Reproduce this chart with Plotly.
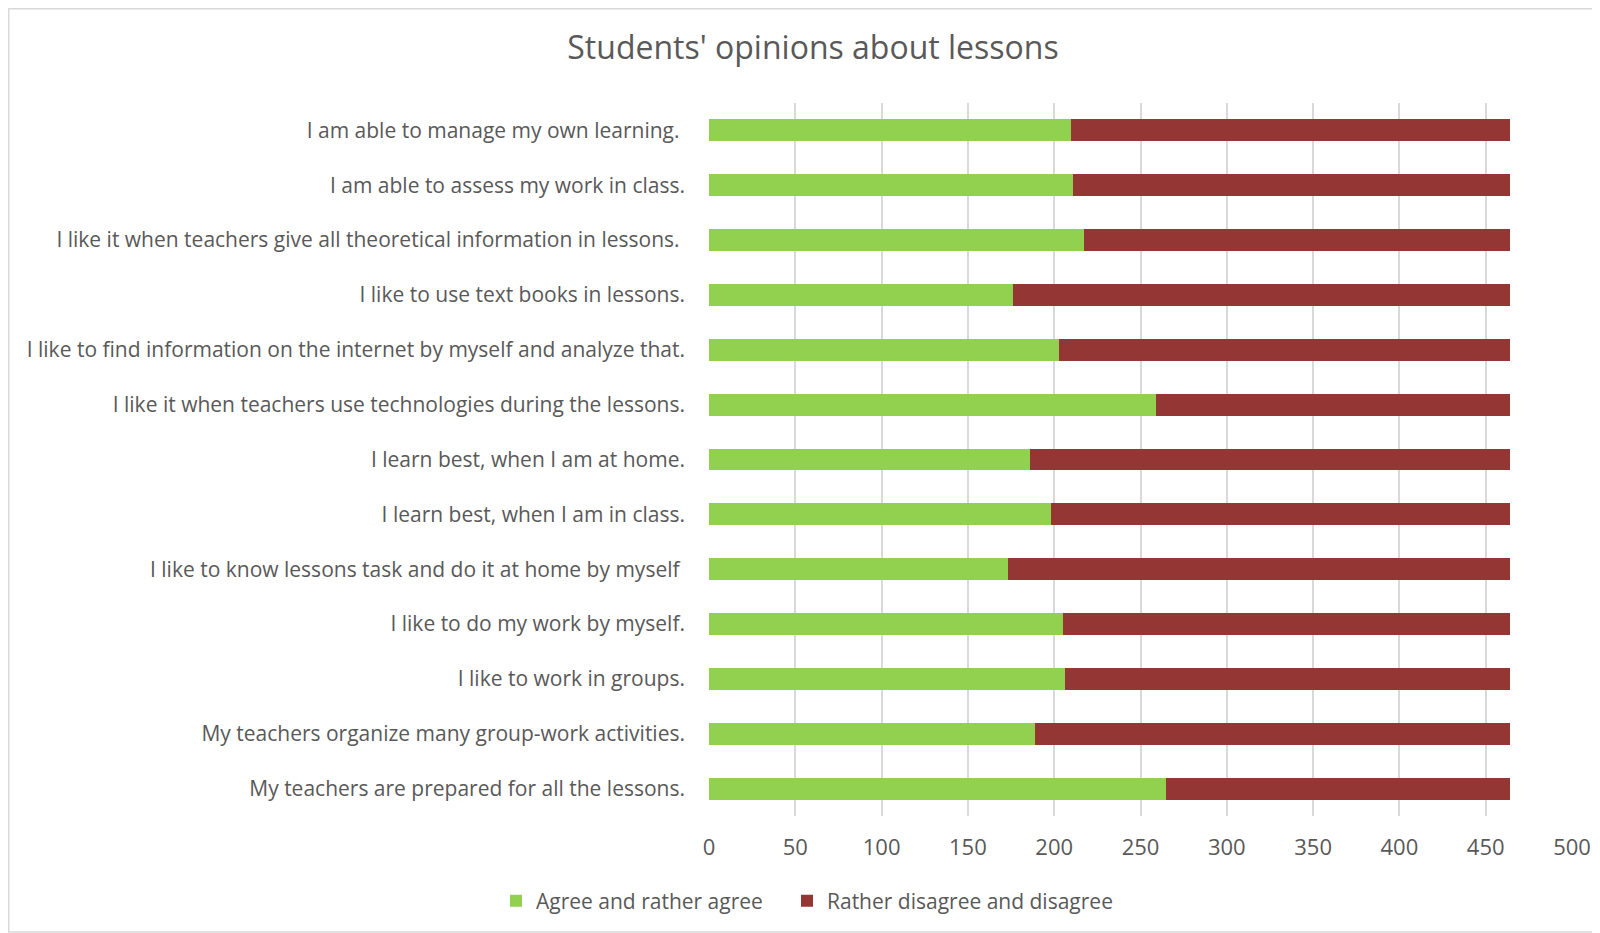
import plotly.graph_objects as go

categories = [
    "I am able to manage my own learning. ",
    "I am able to assess my work in class.",
    "I like it when teachers give all theoretical information in lessons. ",
    "I like to use text books in lessons.",
    "I like to find information on the internet by myself and analyze that.",
    "I like it when teachers use technologies during the lessons.",
    "I learn best, when I am at home.",
    "I learn best, when I am in class.",
    "I like to know lessons task and do it at home by myself ",
    "I like to do my work by myself.",
    "I like to work in groups.",
    "My teachers organize many group-work activities.",
    "My teachers are prepared for all the lessons.",
]
agree = [210, 211, 217, 176, 203, 259, 186, 198, 173, 205, 206, 189, 265]
disagree = [254, 253, 247, 288, 261, 205, 278, 266, 291, 259, 258, 275, 199]
series_names = ["Agree and rather agree", "Rather disagree and disagree"]
title_text = "Students' opinions about lessons"
x_ticks = [0, 50, 100, 150, 200, 250, 300, 350, 400, 450, 500]

FONT = "Open Sans"
GREY = "#595959"

# page has an 8px body margin, so the figure is sized/positioned accordingly
W, H = 1592, 925
L, R, T, B = 701, 28, 95, 117
pw, ph = W - L - R, H - T - B


def px(x):
    return (x - L) / pw


def py(y):
    return (H - B - y) / ph


fig = go.Figure()
fig.add_trace(go.Bar(y=categories, x=agree, orientation="h", name=series_names[0],
                     marker=dict(color="#92D050", line=dict(width=0)),
                     legend="legend", showlegend=True))
fig.add_trace(go.Bar(y=categories, x=disagree, orientation="h", name=series_names[1],
                     marker=dict(color="#943634", line=dict(width=0)),
                     legend="legend2", showlegend=True))

legend_common = dict(orientation="h", xanchor="left", xref="container",
                     y=1 - 893 / H, yanchor="middle", yref="container",
                     font=dict(size=21, color=GREY, family=FONT),
                     bgcolor="rgba(0,0,0,0)", borderwidth=0, visible=True)

fig.update_layout(
    width=W, height=H,
    showlegend=True,
    barmode="stack", bargap=0.6,
    paper_bgcolor="white", plot_bgcolor="white",
    margin=dict(l=L, r=R, t=T, b=B, autoexpand=False),
    font=dict(family=FONT, color=GREY, size=21),
    title=dict(text=title_text, x=805 / W, xanchor="center", xref="container",
               y=1 - 40 / H, yanchor="middle", yref="container",
               font=dict(size=32, color=GREY, family=FONT)),
    legend=dict(x=488 / W, **legend_common),
    legend2=dict(x=779 / W, **legend_common),
    xaxis=dict(range=[0, 500], tickvals=x_ticks, showgrid=True, gridcolor="#D9D9D9",
               gridwidth=1.5, zeroline=False, showline=False, ticks="",
               tickfont=dict(size=22, color=GREY), ticklabelstandoff=16),
    yaxis=dict(autorange="reversed", showgrid=False, showline=False, ticks="",
               tickfont=dict(size=21, color=GREY), ticklabelstandoff=23),
    shapes=[dict(type="rect", xref="paper", yref="paper",
                 x0=px(0.75), x1=px(1620), y0=py(0.75), y1=py(924),
                 line=dict(color="#D9D9D9", width=1.5), layer="below")],
)

fig.write_html("out.html")
